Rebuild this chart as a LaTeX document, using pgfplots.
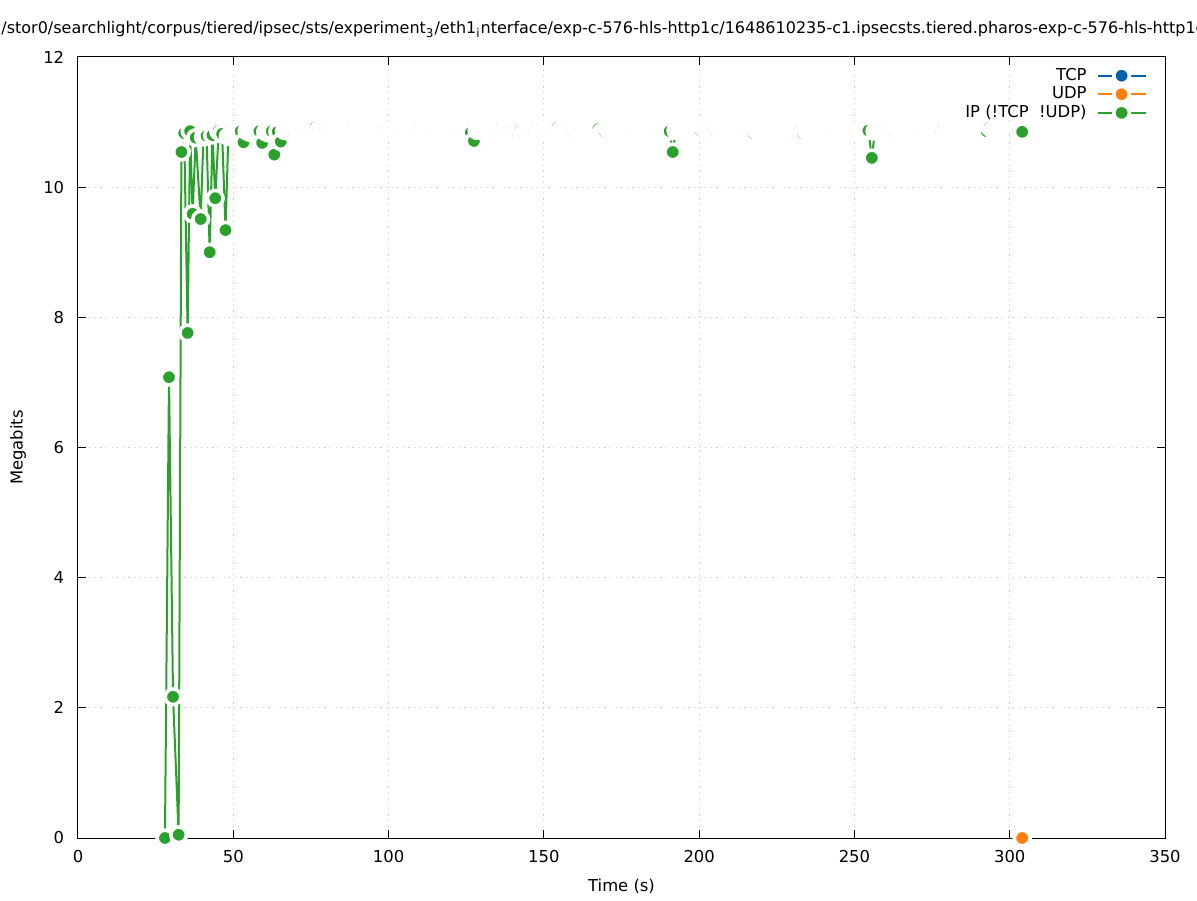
\documentclass[border=0pt]{standalone}
\usepackage{fontspec}
\setmainfont{DejaVu Sans}
\usepackage{pgfplots}
\pgfplotsset{compat=1.18}
\definecolor{tcpblue}{HTML}{0060AD}
\definecolor{udporange}{HTML}{FF7F0E}
\definecolor{ipgreen}{HTML}{2CA02C}
\begin{document}
\fontsize{8.2}{10}\selectfont
\begin{tikzpicture}
\path[use as bounding box] (-39pt,-31pt) rectangle (559.5pt,419pt);
\begin{axis}[
  at={(0,0)}, anchor=south west,
  scale only axis, width=543.5pt, height=390.5pt,
  xmin=0, xmax=350, ymin=0, ymax=12,
  xtick={0,50,...,350}, ytick={0,2,...,12},
  grid=major,
  grid style={gray!40, line width=0.5pt, dash pattern=on 0.6pt off 2.2pt},
  tick align=inside, major tick length=4pt,
  tick style={black, line width=0.5pt},
  axis line style={black, line width=0.5pt},
  /pgf/number format/assume math mode=true,
  ticklabel style={font=\fontsize{8.2}{10}\selectfont},
  xticklabel style={yshift=-3pt},
  yticklabel style={xshift=-4pt},
  xlabel={Time (s)}, ylabel={Megabits},
  xlabel style={at={(axis description cs:0.5,0)}, anchor=center, yshift=-24pt},
  ylabel style={at={(axis description cs:0,0.5)}, anchor=center, yshift=30pt},
  clip=false,
  legend plot pos=right,
  legend cell align=right,
  legend style={at={(rel axis cs:1,1)}, anchor=north east, xshift=-6pt, yshift=-1.5pt,
    draw=none, fill=none, row sep=-2pt, column sep=3pt, font=\fontsize{8.2}{10}\selectfont},
  legend image code/.code={\draw[mark repeat=2,mark phase=2] plot coordinates {(0pt,0pt) (12pt,0pt) (24pt,0pt)};},
  every axis plot/.append style={line width=1pt, mark=*, mark size=3.9pt},
]
\addplot[color=tcpblue, mark options={fill=tcpblue, draw=white, line width=1.8pt}] coordinates {(304.0,0)};
\addlegendentry{TCP}
\addplot[color=udporange, mark options={fill=udporange, draw=white, line width=1.8pt}] coordinates {(304.0,0)};
\addlegendentry{UDP}
\addplot[color=ipgreen, mark options={fill=ipgreen, draw=white, line width=1.8pt}] coordinates {
(28.0,0) (29.3,7.08) (30.6,2.17) (32.4,0.05) (33.3,10.54) (34.2,10.83) (35.3,7.76) (36.1,10.86)
(36.9,9.59) (37.9,10.76) (39.5,9.51) (40.4,10.77) (41.4,10.79) (42.4,9.00) (43.3,10.80) (44.2,9.83)
(45.3,10.86) (46.4,10.82) (47.5,9.34) (48.4,10.78) (49.4,10.80) (50.4,10.83) (51.4,10.85) (52.4,10.86)
(53.3,10.69) (54.4,10.86) (55.4,10.84) (56.4,10.85) (57.4,10.83) (58.4,10.86) (59.3,10.68) (60.4,10.85)
(61.4,10.83) (62.4,10.86) (63.2,10.50) (64.3,10.85) (65.3,10.70)
(66.5,10.87) (67.5,10.86) (68.5,10.87) (69.5,10.86) (70.5,10.89) (71.5,10.87) (72.5,10.88) (73.5,10.86) (74.5,10.87) (75.5,10.90)
(76.5,10.92) (77.5,10.88) (78.5,10.87) (79.5,10.86) (80.5,10.83) (81.5,10.85) (82.5,10.87) (83.5,10.87) (84.5,10.88) (85.5,10.86)
(86.5,10.87) (87.5,10.87) (88.5,10.89) (89.5,10.86) (90.5,10.87) (91.5,10.88) (92.5,10.87) (93.5,10.86) (94.5,10.87) (95.5,10.86)
(96.5,10.87) (97.5,10.88) (98.5,10.87) (99.5,10.84) (100.5,10.86) (101.5,10.87) (102.5,10.87) (103.5,10.88) (104.5,10.86) (105.5,10.87)
(106.5,10.89) (107.5,10.87) (108.5,10.88) (109.5,10.91) (110.5,10.88) (111.5,10.86) (112.5,10.87) (113.5,10.87) (114.5,10.89) (115.5,10.87)
(116.5,10.86) (117.5,10.87) (118.5,10.87) (119.5,10.88) (120.5,10.86) (121.5,10.87) (122.5,10.89) (123.5,10.87) (124.5,10.87) (125.5,10.86)
(126.5,10.84) (127.5,10.71) (128.5,10.87) (129.5,10.87) (130.5,10.86) (131.5,10.88) (132.5,10.87) (133.5,10.87) (134.5,10.86) (135.5,10.88)
(136.5,10.91) (137.5,10.88) (138.5,10.87) (139.5,10.85) (140.5,10.87) (141.5,10.84) (142.5,10.87) (143.5,10.83) (144.5,10.86) (145.5,10.87)
(146.5,10.88) (147.5,10.91) (148.5,10.88) (149.5,10.87) (150.5,10.88) (151.5,10.86) (152.5,10.87) (153.5,10.90) (154.5,10.92) (155.5,10.88)
(156.5,10.87) (157.5,10.88) (158.5,10.86) (159.5,10.84) (160.5,10.87) (161.5,10.87) (162.5,10.88) (163.5,10.86) (164.5,10.87) (165.5,10.87)
(166.5,10.87) (167.5,10.89) (168.5,10.84) (169.5,10.86) (170.5,10.90) (171.5,10.88) (172.5,10.89) (173.5,10.87) (174.5,10.87) (175.5,10.86)
(176.5,10.87) (177.5,10.87) (178.5,10.88) (179.5,10.86) (180.5,10.87) (181.5,10.87) (182.5,10.88) (183.5,10.87) (184.5,10.86) (185.5,10.87)
(186.5,10.87) (187.5,10.88) (188.5,10.86) (189.5,10.87) (190.5,10.86) (191.5,10.54) (192.5,10.87) (193.5,10.87) (194.5,10.86) (195.5,10.88)
(196.5,10.87) (197.5,10.87) (198.5,10.86) (199.5,10.88) (200.5,10.87) (201.5,10.91) (202.5,10.88) (203.5,10.86) (204.5,10.87) (205.5,10.84)
(206.5,10.87) (207.5,10.87) (208.5,10.88) (209.5,10.86) (210.5,10.87) (211.5,10.87) (212.5,10.88) (213.5,10.86) (214.5,10.87) (215.5,10.87)
(216.5,10.85) (217.5,10.83) (218.5,10.87) (219.5,10.87) (220.5,10.86) (221.5,10.88) (222.5,10.87) (223.5,10.87) (224.5,10.86) (225.5,10.87)
(226.5,10.87) (227.5,10.88) (228.5,10.86) (229.5,10.87) (230.5,10.87) (231.5,10.88) (232.5,10.86) (233.5,10.83) (234.5,10.87) (235.5,10.87)
(236.5,10.88) (237.5,10.86) (238.5,10.87) (239.5,10.87) (240.5,10.88) (241.5,10.86) (242.5,10.87) (243.5,10.87) (244.5,10.88) (245.5,10.86)
(246.5,10.87) (247.5,10.87) (248.5,10.88) (249.5,10.86) (250.5,10.87) (251.5,10.87) (252.5,10.88) (253.5,10.86) (254.5,10.87) (255.6,10.45)
(256.6,10.86) (257.6,10.87) (258.6,10.87) (259.6,10.88) (260.6,10.86) (261.6,10.87) (262.6,10.84) (263.6,10.87) (264.6,10.88) (265.6,10.86)
(266.6,10.87) (267.6,10.87) (268.6,10.88) (269.6,10.86) (270.6,10.87) (271.6,10.89) (272.6,10.87) (273.6,10.88) (274.6,10.86) (275.6,10.87)
(276.6,10.87) (277.6,10.88) (278.6,10.91) (279.6,10.88) (280.6,10.86) (281.6,10.87) (282.6,10.87) (283.6,10.88) (284.6,10.86) (285.6,10.87)
(286.6,10.87) (287.6,10.88) (288.6,10.86) (289.6,10.87) (290.6,10.87) (291.6,10.88) (292.6,10.86) (293.6,10.92) (294.6,10.88) (295.6,10.87)
(296.6,10.88) (297.6,10.86) (298.6,10.87) (299.6,10.87) (300.6,10.85) (301.6,10.84) (302.8,10.86) (304.0,10.85)
};
\addlegendentry{IP (!TCP\ \ !UDP)}
\end{axis}
\node[anchor=base west, inner sep=0pt] at (-38.5pt,402pt) {\fontsize{8.0}{10}\selectfont /stor0/searchlight/corpus/tiered/ipsec/sts/experiment\textsubscript{3}/eth1\textsubscript{i}nterface/exp-c-576-hls-http1c/1648610235-c1.ipsecsts.tiered.pharos-exp-c-576-hls-http1c-c1.pcap};
\end{tikzpicture}
\end{document}
